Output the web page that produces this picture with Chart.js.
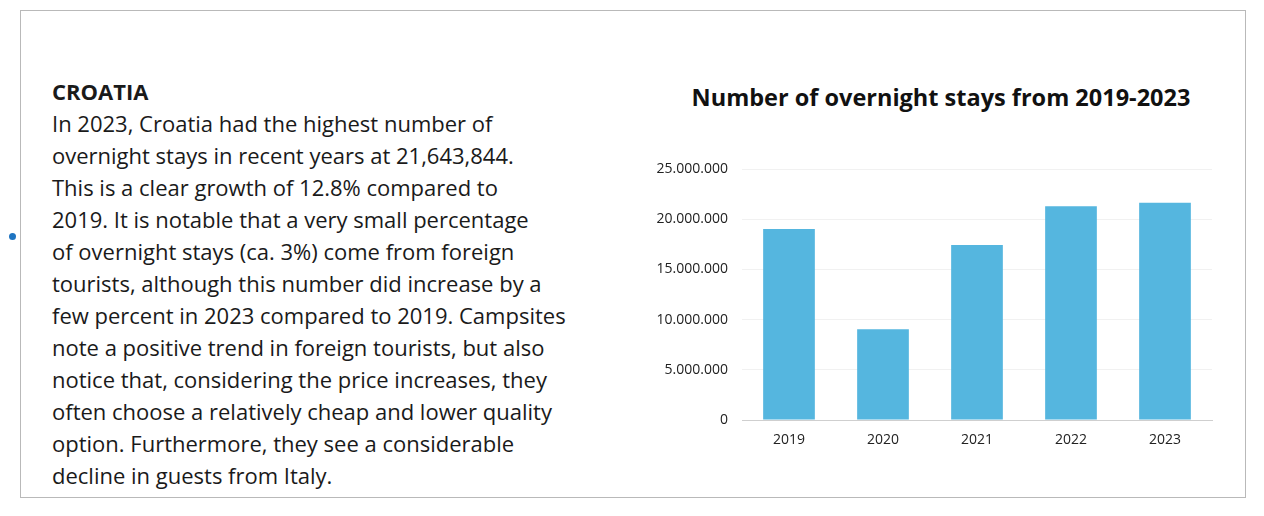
<!DOCTYPE html>
<html>
<head>
<meta charset="utf-8">
<script src="https://cdn.jsdelivr.net/npm/chart.js@4.4.1/dist/chart.umd.min.js"></script>
<style>
  html, body { margin: 0; padding: 0; background: #fff; }
  body { width: 1264px; height: 516px; position: relative; overflow: hidden; font-family: "Open Sans", "Noto Sans", sans-serif; color: #1a1a1a; }
  #frame { position: absolute; left: 20px; top: 10px; width: 1226px; height: 488px; border: 1px solid #b9b9b9; box-sizing: border-box; }
  #dot { position: absolute; left: 9px; top: 233px; width: 7px; height: 7px; border-radius: 50%; background: #1f74c1; }
  #copy { position: absolute; left: 52px; top: 75px; }
  #copy div { height: 32px; line-height: 32px; font-size: 22px; white-space: nowrap; }
  #copy .head { font-weight: 700; }
  #title { position: absolute; left: 640px; width: 602px; top: 81px; text-align: center; font-weight: 700; font-size: 23.5px; line-height: 32px; white-space: nowrap; color: #111; }
  #wrap { position: absolute; left: 640px; top: 140px; width: 600px; height: 330px; }
</style>
</head>
<body>
<div id="frame"></div>
<div id="dot"></div>
<div id="copy"></div>
<div id="title"></div>
<div id="wrap"><canvas id="chart"></canvas></div>
<script>
// Overnight stays in Croatia per year
const years = ['2019', '2020', '2021', '2022', '2023'];
const overnightStays = [19020000, 9030000, 17430000, 21280000, 21643844];
const yTicks = [0, 5000000, 10000000, 15000000, 20000000, 25000000];

const chartTitle = 'Number of overnight stays from 2019-2023';
const heading = 'CROATIA';
const paragraph = [
  'In 2023, Croatia had the highest number of',
  'overnight stays in recent years at 21,643,844.',
  'This is a clear growth of 12.8% compared to',
  '2019. It is notable that a very small percentage',
  'of overnight stays (ca. 3%) come from foreign',
  'tourists, although this number did increase by a',
  'few percent in 2023 compared to 2019. Campsites',
  'note a positive trend in foreign tourists, but also',
  'notice that, considering the price increases, they',
  'often choose a relatively cheap and lower quality',
  'option. Furthermore, they see a considerable',
  'decline in guests from Italy.'
];

// text column
const copy = document.getElementById('copy');
const h = document.createElement('div');
h.className = 'head';
h.textContent = heading;
copy.appendChild(h);
paragraph.forEach(line => {
  const d = document.createElement('div');
  d.textContent = line;
  copy.appendChild(d);
});
document.getElementById('title').textContent = chartTitle;

// thousands separated with dots
const dotted = v => String(Math.round(v)).replace(/\B(?=(\d{3})+(?!\d))/g, '.');

new Chart(document.getElementById('chart'), {
  type: 'bar',
  data: {
    labels: years,
    datasets: [{
      data: overnightStays,
      backgroundColor: '#55b6df',
      borderWidth: 0,
      categoryPercentage: 1,
      barPercentage: 0.55
    }]
  },
  options: {
    responsive: true,
    maintainAspectRatio: false,
    animation: false,
    layout: { padding: { top: 29, right: 28, bottom: 0, left: 0 } },
    plugins: { legend: { display: false }, tooltip: { enabled: false } },
    scales: {
      x: {
        grid: { display: false, drawTicks: false },
        border: { display: true, color: '#cfcfcf', width: 1 },
        ticks: { color: '#222', font: { family: 'Open Sans', size: 14 }, padding: 12 },
        afterFit: s => { s.height = 50; }
      },
      y: {
        min: 0,
        max: 25000000,
        afterBuildTicks: s => { s.ticks = yTicks.map(v => ({ value: v })); },
        grid: { color: '#f1f1f1', drawTicks: false },
        border: { display: false },
        ticks: { color: '#222', font: { family: 'Open Sans', size: 14 }, padding: 14, callback: v => dotted(v) },
        afterFit: s => { s.width = 102; }
      }
    }
  }
});
</script>
</body>
</html>
